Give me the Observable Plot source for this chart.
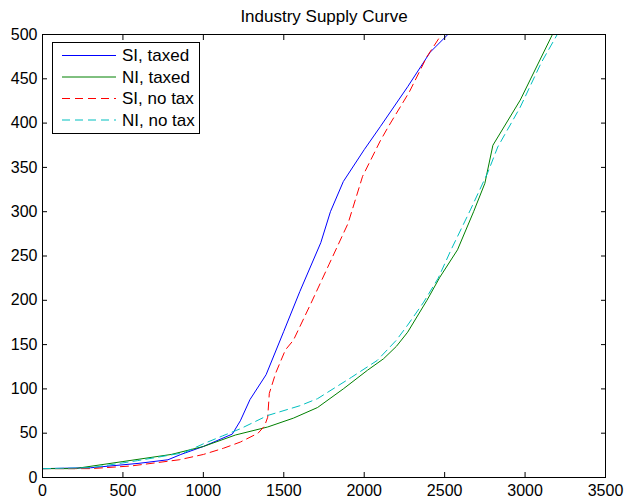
<!DOCTYPE html>
<html><head><meta charset="utf-8">
<script src="https://cdn.jsdelivr.net/npm/d3@7"></script>
<script src="https://cdn.jsdelivr.net/npm/@observablehq/plot@0.6"></script>
<style>
body{margin:0;background:#fff;}
#wrap{position:relative;width:628px;height:500px;font-family:"Liberation Sans",Arial,sans-serif;}
#legend{position:absolute;left:52px;top:42px;}
</style>
</head><body>
<div id="wrap"></div>
<script>
const title = "Industry Supply Curve";
const xTicks = [0, 500, 1000, 1500, 2000, 2500, 3000, 3500];
const yTicks = [0, 50, 100, 150, 200, 250, 300, 350, 400, 450, 500];
const seriesNames = ["SI, taxed", "NI, taxed", "SI, no tax", "NI, no tax"];
const seriesColors = ["#0000ff", "#008000", "#ff0000", "#00bfbf"];
const seriesDashed = [false, false, true, true];

const siTaxed = [[0,10],[300,11],[600,16],[780,20],[860,26],[1000,35],[1180,49],[1230,64],[1290,88],[1390,116],[1500,165],[1600,210],[1730,265],[1790,300],[1870,334],[2000,370],[2100,396],[2270,441],[2410,480],[2520,500]];
const niTaxed = [[0,10],[200,10],[500,18],[800,26],[1000,35],[1200,48],[1400,57],[1560,67],[1710,79],[1870,100],[2020,121],[2120,134],[2200,148],[2270,164],[2390,200],[2470,226],[2580,257],[2680,300],[2750,332],[2800,375],[2970,426],[3170,500]];
const siNoTax = [[0,10],[300,10],[550,13],[850,20],[1000,26],[1125,33],[1230,40],[1340,50],[1380,58],[1400,68],[1410,95],[1450,118],[1510,144],[1560,155],[1670,197],[1780,240],[1900,287],[1990,340],[2100,380],[2150,396],[2280,435],[2390,475],[2480,500]];
const niNoTax = [[0,10],[300,11],[590,19],[880,28],[1000,38],[1120,47],[1230,55],[1400,70],[1600,81],[1710,89],[1920,113],[2080,132],[2200,155],[2270,172],[2370,198],[2460,225],[2540,257],[2660,302],[2770,345],[2830,373],[2970,418],[3100,468],[3200,500]];
const allSeries = [siTaxed, niTaxed, siNoTax, niNoTax];
const dash = "8,5";

const lineMarks = allSeries.map((s, i) => Plot.line(s, {
  x: d => d[0], y: d => d[1], stroke: seriesColors[i], strokeWidth: 1,
  strokeDasharray: seriesDashed[i] ? dash : null
}));

const chart = Plot.plot({
  width: 628, height: 500,
  marginLeft: 42, marginRight: 23, marginTop: 34, marginBottom: 23,
  x: {domain: [0, 3500]},
  y: {domain: [0, 500]},
  clip: true,
  style: {fontFamily: '"Liberation Sans", Arial, sans-serif', fontSize: "16px", background: "white", color: "black", overflow: "visible"},
  marks: [
    ...lineMarks,
    Plot.frame({stroke: "black", strokeWidth: 1}),
    Plot.axisX({ticks: xTicks, tickSize: -5, tickPadding: 12, label: null, fontSize: 16, tickFormat: d => String(d)}),
    Plot.axisX({anchor: "top", ticks: xTicks, tickSize: -5, tickFormat: () => "", label: null}),
    Plot.axisY({ticks: yTicks, tickSize: -5, tickPadding: 10, label: null, fontSize: 16, tickFormat: d => String(d)}),
    Plot.axisY({anchor: "right", ticks: yTicks, tickSize: -5, tickFormat: () => "", label: null}),
    Plot.text([title], {frameAnchor: "top", lineAnchor: "middle", dy: -18, fontSize: 17, fill: "black", clip: false})
  ]
});
document.getElementById("wrap").appendChild(chart);

// legend overlay
const lw = 148, lh = 92, rowH = 21.5;
const leg = d3.select("#wrap").append("svg").attr("id", "legend")
  .attr("width", lw).attr("height", lh)
  .style("font-family", '"Liberation Sans", Arial, sans-serif').style("font-size", "17px");
leg.append("rect").attr("x", 0.5).attr("y", 0.5).attr("width", lw - 1).attr("height", lh - 1)
  .attr("fill", "white").attr("stroke", "black");
seriesNames.forEach((name, i) => {
  const cy = 13.5 + i * rowH;
  leg.append("line").attr("x1", 10).attr("x2", 64).attr("y1", cy).attr("y2", cy)
    .attr("stroke", seriesColors[i]).attr("stroke-width", 1)
    .attr("stroke-dasharray", seriesDashed[i] ? dash : null);
  leg.append("text").attr("x", 70).attr("y", cy).attr("dy", "0.35em").text(name);
});
</script>
</body></html>
